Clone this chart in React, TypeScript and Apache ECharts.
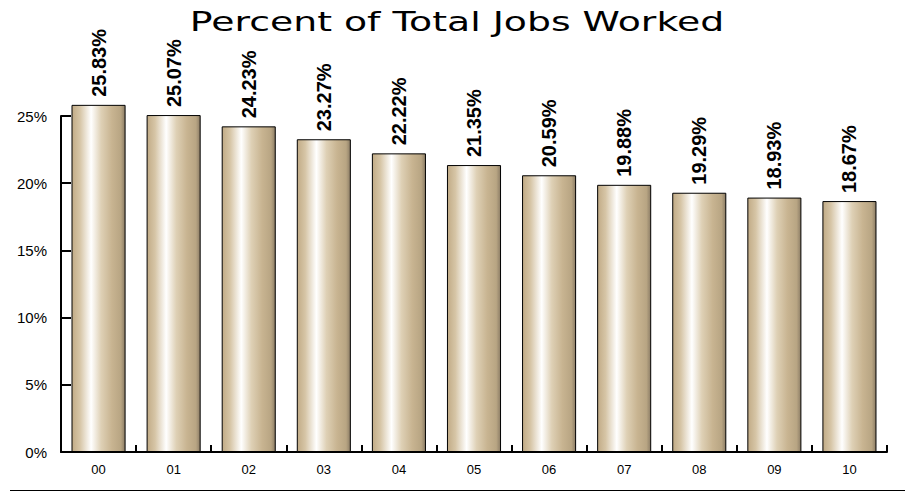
import React, { useEffect, useRef } from "react";
import * as echarts from "echarts";

const titleText = "Percent of Total Jobs Worked";
const categories = ["00", "01", "02", "03", "04", "05", "06", "07", "08", "09", "10"];
const values = [25.83, 25.07, 24.23, 23.27, 22.22, 21.35, 20.59, 19.88, 19.29, 18.93, 18.67];
const yTicks = [0, 5, 10, 15, 20, 25];

export default function App() {
  const ref = useRef<HTMLDivElement>(null);
  useEffect(() => {
    if (!ref.current) return;
    const chart = echarts.init(ref.current, undefined, { renderer: "svg" });
    const grad = new echarts.graphic.LinearGradient(0, 0, 1, 0, [
      { offset: 0, color: "#c1ab86" },
      { offset: 0.15, color: "#d6c5a6" },
      { offset: 0.36, color: "#ffffff" },
      { offset: 0.55, color: "#ded0b5" },
      { offset: 0.75, color: "#c8b491" },
      { offset: 0.92, color: "#b8a583" },
      { offset: 1, color: "#8c7d66" },
    ]);
    chart.setOption({
      animation: false,
      backgroundColor: "#ffffff",
      grid: { left: 61, right: 20, top: 116, bottom: 39, containLabel: false },
      xAxis: {
        type: "category",
        data: categories,
        boundaryGap: true,
        axisLine: { show: true, lineStyle: { color: "#000", width: 2 } },
        axisTick: { show: true, inside: true, length: 7, lineStyle: { color: "#000", width: 2 } },
        axisLabel: { color: "#000", fontFamily: "Liberation Sans", fontSize: 13, margin: 11 },
        splitLine: { show: false },
      },
      yAxis: {
        type: "value",
        min: yTicks[0],
        max: yTicks[yTicks.length - 1],
        interval: 5,
        axisLine: { show: true, lineStyle: { color: "#000", width: 2 } },
        axisTick: { show: true, inside: true, length: 10, lineStyle: { color: "#000", width: 2 } },
        axisLabel: {
          color: "#000",
          fontFamily: "Liberation Sans",
          fontSize: 15,
          margin: 14,
          formatter: (v: number) => v + "%",
        },
        splitLine: { show: false },
      },
      series: [
        {
          type: "bar",
          data: values,
          barWidth: "72%",
          clip: false,
          itemStyle: { color: grad, borderColor: "#000", borderWidth: 1 },
          label: {
            show: true,
            position: "top",
            rotate: 90,
            align: "left",
            verticalAlign: "middle",
            distance: 8,
            formatter: (p: any) => p.value.toFixed(2) + "%",
            fontFamily: "Liberation Sans",
            fontWeight: "bold",
            fontSize: 20,
            color: "#000",
          },
        },
      ],
      graphic: [
        {
          type: "text",
          x: 457,
          y: 22,
          scaleX: 1.4,
          style: {
            text: titleText,
            fontFamily: "DejaVu Sans",
            fontSize: 27,
            fill: "#000",
            align: "center",
            verticalAlign: "middle",
          },
        },
        {
          type: "line",
          shape: { x1: 10, y1: 490.5, x2: 905, y2: 490.5 },
          style: { stroke: "#000", lineWidth: 1 },
        },
      ],
    });
    return () => chart.dispose();
  }, []);
  return (
    <div
      ref={ref}
      style={{ position: "fixed", left: 0, top: 0, width: 907, height: 491 }}
    />
  );
}
